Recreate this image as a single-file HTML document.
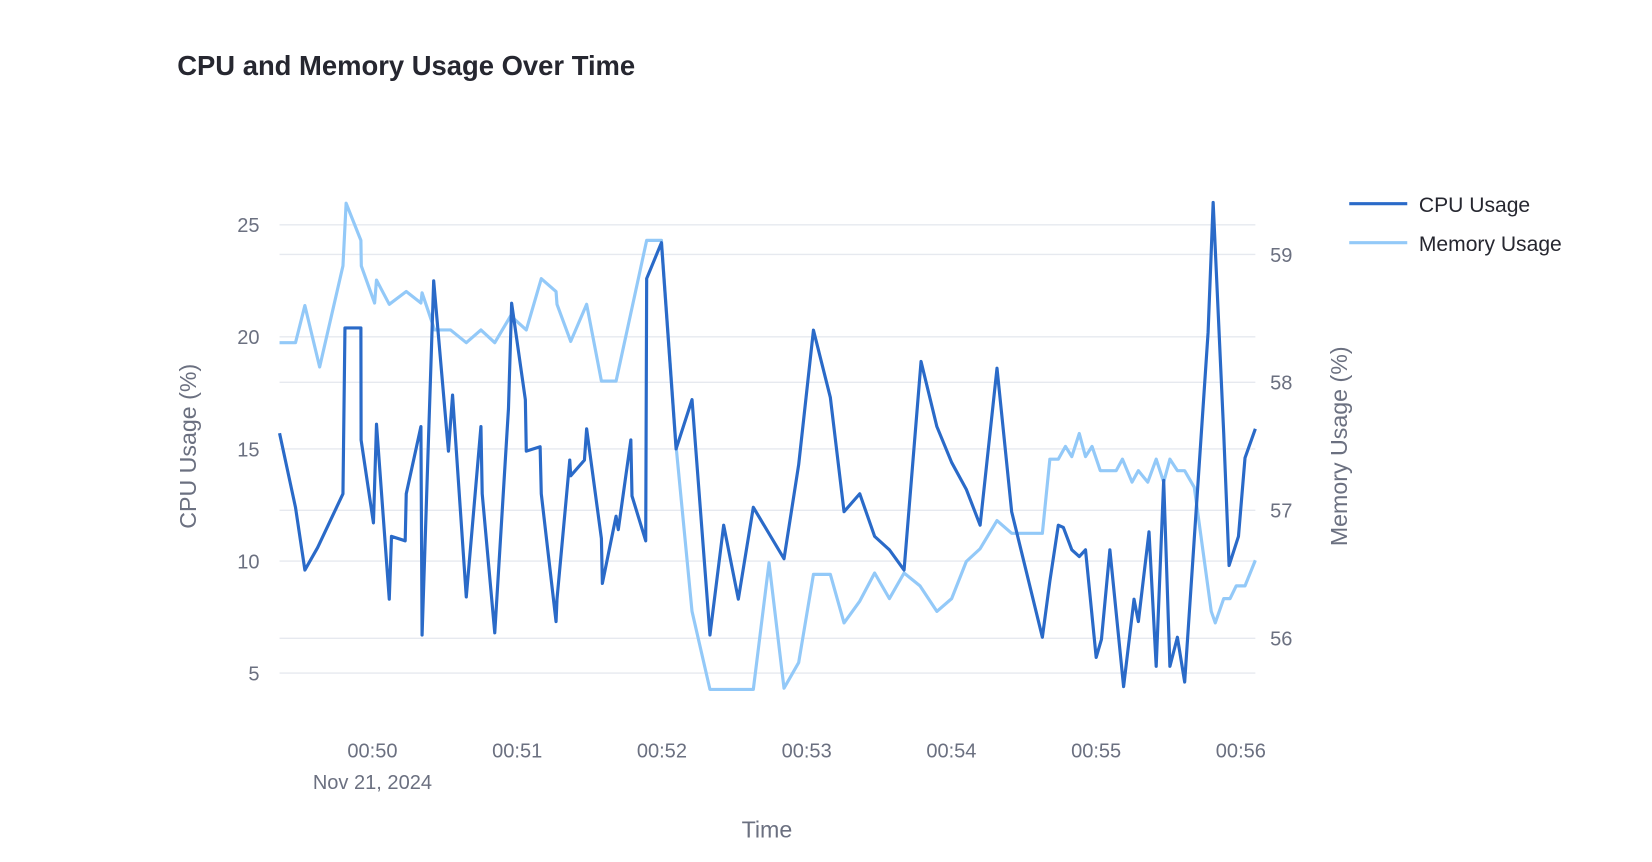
<!DOCTYPE html>
<html><head><meta charset="utf-8"><style>
html,body{margin:0;padding:0;background:#fff;}
svg{display:block;font-family:"Liberation Sans",sans-serif;}
</style></head><body>
<svg id="chart" width="1652" height="862" viewBox="0 0 1566 817">
<text x="168" y="71" font-size="26" font-weight="bold" fill="#262730">CPU and Memory Usage Over Time</text>
<g id="grid"></g>
<g id="series"></g>
<g id="axes"></g>
<text x="727" y="794" font-size="22" fill="#6b7080" text-anchor="middle">Time</text>
<text transform="translate(186,423) rotate(-90)" font-size="22" fill="#6b7080" text-anchor="middle">CPU Usage (%)</text>
<text transform="translate(1277,423) rotate(-90)" font-size="22" fill="#6b7080" text-anchor="middle">Memory Usage (%)</text>
<g>
<g><line x1="1279" y1="193" x2="1334" y2="193" stroke="#2a6ac8" stroke-width="3"/><text x="1345" y="201" font-size="20" fill="#262730">CPU Usage</text></g>
<g><line x1="1279" y1="230" x2="1334" y2="230" stroke="#93c9f8" stroke-width="3"/><text x="1345" y="238" font-size="20" fill="#262730">Memory Usage</text></g>
</g>
</svg>
<script>
// seconds relative to 00:50:00
const cpuTimes=[-38.5,-31.9,-28.0,-22.7,-12.2,-11.4,-4.8,-4.7,0.4,1.7,7.0,7.9,13.6,14.0,20.1,20.6,25.4,31.5,33.2,38.9,45.0,45.5,50.7,56.4,57.7,63.4,63.8,69.5,70.0,76.1,76.5,81.8,82.2,87.9,88.8,94.9,95.3,101.0,101.9,107.1,107.6,113.3,113.7,119.8,125.9,132.5,139.9,145.6,151.7,157.9,170.6,176.7,182.8,189.8,195.5,202.0,208.2,214.3,220.4,227.4,234.0,240.1,246.2,251.9,258.9,265.0,277.7,280.8,284.3,286.4,289.9,293.0,295.6,300.0,302.2,305.7,311.4,315.7,317.5,321.9,324.9,328.0,330.6,333.7,336.7,340.7,346.4,348.5,352.9,355.1,359.0,361.7,366.0];
const cpuValues=[15.7,12.4,9.6,10.6,13.0,20.4,20.4,15.4,11.7,16.1,8.3,11.1,10.9,13.0,16.0,6.7,22.5,14.9,17.4,8.4,16.0,13.0,6.8,16.8,21.5,17.2,14.9,15.1,13.0,7.3,8.3,14.5,13.8,14.5,15.9,11.0,9.0,12.0,11.4,15.4,12.9,10.9,22.6,24.2,15.0,17.2,6.7,11.6,8.3,12.4,10.1,14.3,20.3,17.3,12.2,13.0,11.1,10.5,9.6,18.9,16.0,14.4,13.2,11.6,18.6,12.2,6.6,9.1,11.6,11.5,10.5,10.2,10.5,5.7,6.5,10.5,4.4,8.3,7.3,11.3,5.3,13.6,5.3,6.6,4.6,11.0,20.2,26.0,15.7,9.8,11.1,14.6,15.9];
const memTimes=[-38.5,-31.9,-28.0,-21.9,-12.2,-10.9,-4.8,-4.6,0.9,1.7,7.0,14.0,20.1,20.6,25.8,32.4,38.9,45.0,50.7,57.3,63.8,70.0,76.1,76.5,82.2,88.8,94.9,101.0,113.7,119.8,125.9,132.5,139.9,157.9,164.4,170.6,176.7,182.8,189.8,195.5,202.0,208.2,214.3,220.4,227.0,234.0,240.1,246.2,251.9,258.9,265.0,277.7,280.8,284.3,287.3,289.9,293.0,295.6,298.3,301.7,308.3,310.9,314.9,317.5,321.4,324.9,328.0,330.6,333.7,336.7,340.7,347.7,349.4,352.9,355.5,358.1,361.7,366.0];
const memValues=[58.31,58.31,58.60,58.12,58.91,59.40,59.11,58.91,58.62,58.80,58.61,58.71,58.62,58.70,58.41,58.41,58.31,58.41,58.31,58.52,58.41,58.81,58.71,58.61,58.32,58.61,58.01,58.01,59.11,59.11,57.50,56.21,55.60,55.60,56.59,55.61,55.81,56.50,56.50,56.12,56.29,56.51,56.31,56.51,56.41,56.21,56.31,56.60,56.70,56.92,56.82,56.82,57.40,57.40,57.50,57.42,57.60,57.42,57.50,57.31,57.31,57.40,57.22,57.31,57.22,57.40,57.22,57.40,57.31,57.31,57.18,56.21,56.12,56.31,56.31,56.41,56.41,56.61];
const cpuTicks=[5,10,15,20,25];
const memTicks=[56,57,58,59];
const xTickMinutes=[0,1,2,3,4,5,6];
const xTickLabels=["00:50","00:51","00:52","00:53","00:54","00:55","00:56"];

const NS="http://www.w3.org/2000/svg";
const X0=265,X1=1190,T0=-38.5,T1=366.0;
const xScale=t=>X0+(t-T0)*(X1-X0)/(T1-T0);
const yCpu=v=>638-(v-5)*21.25;
const yMem=v=>605-(v-56)*121.3;
function mk(tag,attrs,parent){const e=document.createElementNS(NS,tag);for(const k in attrs)e.setAttribute(k,attrs[k]);parent.appendChild(e);return e;}
const grid=document.getElementById('grid'),axes=document.getElementById('axes'),series=document.getElementById('series');
cpuTicks.forEach(v=>{
  const l=mk('line',{x1:X0,x2:X1,y1:yCpu(v),y2:yCpu(v),stroke:'#e6e9ef','stroke-width':1.3},grid);
  
  
  const t=mk('text',{x:246,y:yCpu(v)+7,'font-size':19,fill:'#6b7080','text-anchor':'end'},axes);
  t.textContent=v;
  
  
});
memTicks.forEach(v=>{
  const l=mk('line',{x1:X0,x2:X1,y1:yMem(v),y2:yMem(v),stroke:'#e6e9ef','stroke-width':1.3},grid);
  
  
  const t=mk('text',{x:1204,y:yMem(v)+7,'font-size':19,fill:'#6b7080'},axes);
  t.textContent=v;
  
  
});
xTickMinutes.forEach((m,i)=>{
  const t=mk('text',{x:xScale(m*60),y:718,'font-size':19,fill:'#6b7080','text-anchor':'middle'},axes);
  t.textContent=xTickLabels[i];
  
  
});
const d=mk('text',{x:xScale(0),y:748,'font-size':19,fill:'#6b7080','text-anchor':'middle'},axes);
d.textContent="Nov 21, 2024";


const memPts=memTimes.map((t,i)=>xScale(t).toFixed(1)+','+yMem(memValues[i]).toFixed(1)).join(' ');
const mp=mk('polyline',{points:memPts,fill:'none',stroke:'#93c9f8','stroke-width':3,'stroke-linejoin':'round'},series);


const cpuPts=cpuTimes.map((t,i)=>xScale(t).toFixed(1)+','+yCpu(cpuValues[i]).toFixed(1)).join(' ');
const cp=mk('polyline',{points:cpuPts,fill:'none',stroke:'#2a6ac8','stroke-width':3,'stroke-linejoin':'round'},series);


</script>
</body></html>
